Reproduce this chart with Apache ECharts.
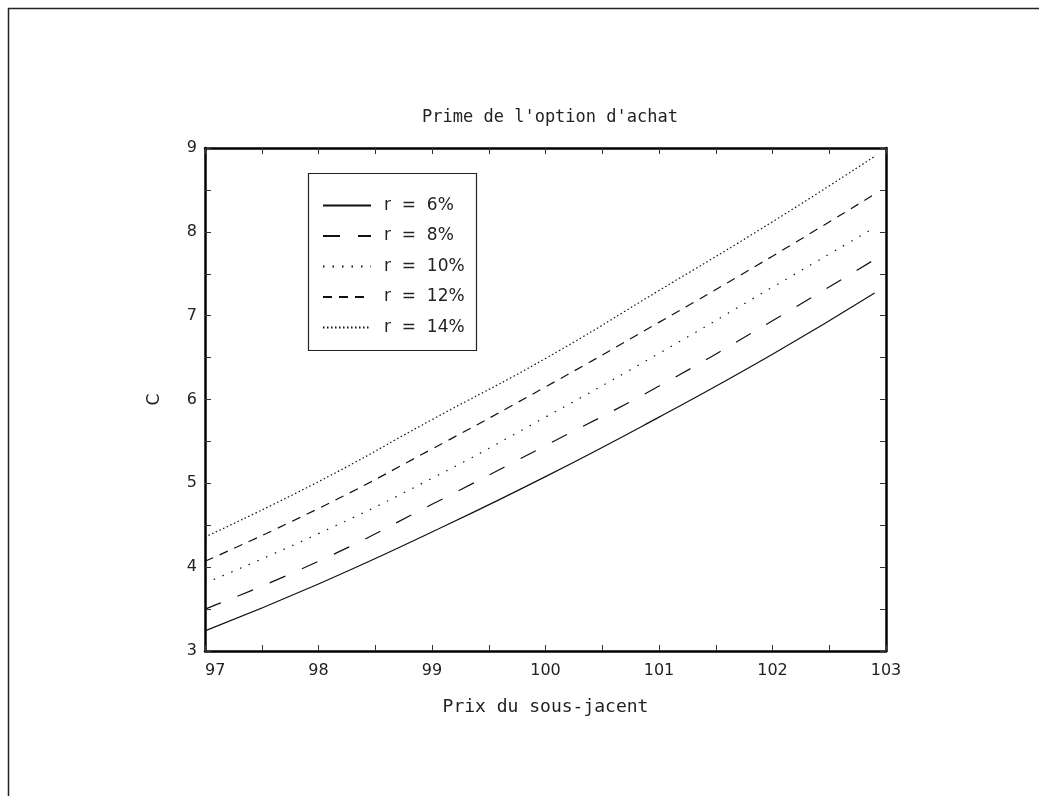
<!DOCTYPE html>
<html>
<head>
<meta charset="utf-8">
<script src="https://cdn.jsdelivr.net/npm/echarts@6/dist/echarts.min.js"></script>
<style>
  html, body { margin: 0; padding: 0; background: #fff; }
  #chart { width: 1039px; height: 796px; }
</style>
</head>
<body>
<div id="chart"></div>
<script>
// underlying price (x) and call premium per rate
const prices = [97, 98, 99, 100, 101, 102, 102.9];
const c6 = [3.24, 3.8, 4.42, 5.08, 5.79, 6.54, 7.27];
const c8 = [3.5, 4.07, 4.75, 5.45, 6.16, 6.94, 7.67];
const c10 = [3.81, 4.4, 5.06, 5.79, 6.55, 7.34, 8.05];
const c12 = [4.07, 4.7, 5.41, 6.15, 6.92, 7.71, 8.45];
const c14 = [4.36, 5.02, 5.76, 6.49, 7.3, 8.12, 8.9];
const rateNames = ["r = 6%", "r = 8%", "r = 10%", "r = 12%", "r = 14%"];

const font = "DejaVu Sans";
const wideFont = "DejaVu Sans Mono";
const dashes = ["solid", [17, 18], [1.5, 8], [9, 7], [1.5, 2.5]];

function pairs(ys) {
  return prices.map((x, i) => [x, ys[i]]);
}

let chart = echarts.init(document.getElementById("chart"), null, { renderer: "canvas" });

function axisCommon(show) {
  return {
    axisLine: { show: true, onZero: false, lineStyle: { color: "#000", width: 2.5 } },
    axisTick: { show: true, inside: true, length: 6, lineStyle: { color: "#333", width: 1 } },
    minorTick: { show: true, splitNumber: 2, length: 6, lineStyle: { color: "#333", width: 1 } },
    splitLine: { show: false },
    axisLabel: { show: show, color: "#222", fontFamily: font, fontSize: 16 },
  };
}

let xMain = axisCommon(true);
xMain.axisLabel.margin = 12;
xMain.axisLabel.alignMinLabel = "left";

let option = {
  backgroundColor: "#fff",
  animation: false,
  title: {
    text: "Prime de l'option d'achat",
    left: 545,
    top: 104,
    textAlign: "center",
    textStyle: { fontFamily: wideFont, fontSize: 17, fontWeight: "normal", color: "#222" },
  },
  grid: { left: 205, top: 148, right: 153, bottom: 145 },
  legend: {
    orient: "vertical",
    left: 322,
    top: 197,
    padding: 0,
    itemWidth: 48,
    itemHeight: 14,
    itemGap: 13.5,
    data: rateNames,
    itemStyle: { opacity: 0 },
    formatter: (name) => name.replace(/ /g, "  "),
    textStyle: { fontFamily: font, fontSize: 17, color: "#222", padding: [0, 0, 0, 8] },
  },
  xAxis: [
    Object.assign(xMain, {
      type: "value",
      min: 97,
      max: 103,
      interval: 1,
      name: "Prix du sous-jacent",
      nameLocation: "middle",
      nameGap: 47,
      nameTextStyle: { fontFamily: wideFont, fontSize: 18, color: "#222" },
    }),
    Object.assign(axisCommon(false), { type: "value", position: "top", min: 97, max: 103, interval: 1 }),
  ],
  yAxis: [
    Object.assign(axisCommon(true), {
      type: "value",
      min: 3,
      max: 9,
      interval: 1,
      name: "C",
      nameLocation: "middle",
      nameGap: 42,
      nameTextStyle: { fontFamily: font, fontSize: 17, color: "#222" },
    }),
    Object.assign(axisCommon(false), { type: "value", position: "right", min: 3, max: 9, interval: 1 }),
  ],
  graphic: [
    {
      type: "polyline",
      shape: { points: [[8.5, 800], [8.5, 8.5], [1045, 8.5]] },
      style: { stroke: "#222", lineWidth: 1.5, fill: null },
      silent: true,
    },
    {
      type: "rect",
      shape: { x: 308.5, y: 173.5, width: 168, height: 177 },
      style: { stroke: "#222", lineWidth: 1.2, fill: null },
      silent: true,
    },
  ],
  series: [c6, c8, c10, c12, c14].map((vals, i) => ({
    name: rateNames[i],
    type: "line",
    xAxisIndex: 0,
    yAxisIndex: 0,
    smooth: true,
    symbol: "none",
    itemStyle: { color: "#111" },
    lineStyle: { color: "#111", width: 1.2, type: dashes[i] },
    data: pairs(vals),
  })),
};

option && chart.setOption(option);
</script>
</body>
</html>
